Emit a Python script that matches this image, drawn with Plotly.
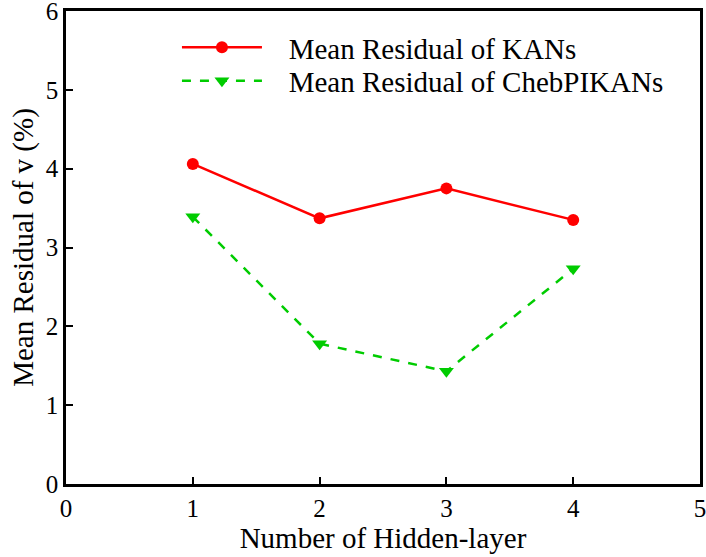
import plotly.graph_objects as go

layers = [1, 2, 3, 4]
kan = [4.06, 3.37, 3.75, 3.35]
cheb = [3.39, 1.78, 1.43, 2.73]
x_ticks = [0, 1, 2, 3, 4, 5]
y_ticks = [0, 1, 2, 3, 4, 5, 6]

font = "Liberation Serif"
gap = "\u00a0\u00a0\u00a0"

fig = go.Figure()
fig.add_trace(go.Scatter(x=layers, y=kan, mode="lines+markers",
                         name=gap + "Mean Residual of KANs",
                         line=dict(color="#ff0000", width=2.5),
                         marker=dict(symbol="circle", size=12, color="#ff0000"),
                         legend="legend", showlegend=True))
fig.add_trace(go.Scatter(x=layers, y=cheb, mode="lines+markers",
                         name=gap + "Mean Residual of ChebPIKANs",
                         line=dict(color="#00cc00", width=2.5, dash="dash"),
                         marker=dict(symbol="triangle-down", size=13, color="#00cc00"),
                         legend="legend2", showlegend=True))

axis_common = dict(showline=True, linecolor="black", linewidth=2.5, mirror=True,
                   ticks="inside", ticklen=7, tickwidth=2, tickcolor="black",
                   showgrid=False, zeroline=False, ticklabeloverflow="allow",
                   automargin=False,
                   tickfont=dict(family=font, size=25, color="black"))

leg_common = dict(xanchor="left", yanchor="middle", bgcolor="rgba(0,0,0,0)",
                  itemwidth=80, font=dict(family=font, size=29, color="black"))

fig.update_layout(
    width=706, height=557,
    margin=dict(l=66, r=6, t=11, b=73),
    plot_bgcolor="white", paper_bgcolor="white",
    showlegend=True,
    font=dict(family=font, size=25, color="black"),
    xaxis=dict(range=[0, 5], tickvals=x_ticks,
               title=dict(text="Number of Hidden-layer", font=dict(family=font, size=29), standoff=4),
               **axis_common),
    yaxis=dict(range=[0, 6], tickvals=y_ticks,
               title=dict(text="Mean Residual of v (%)", font=dict(family=font, size=29), standoff=4),
               **axis_common),
    legend=dict(x=0.175, y=0.923, **leg_common),
    legend2=dict(x=0.175, y=0.852, **leg_common),
)

fig.write_html("out.html")
